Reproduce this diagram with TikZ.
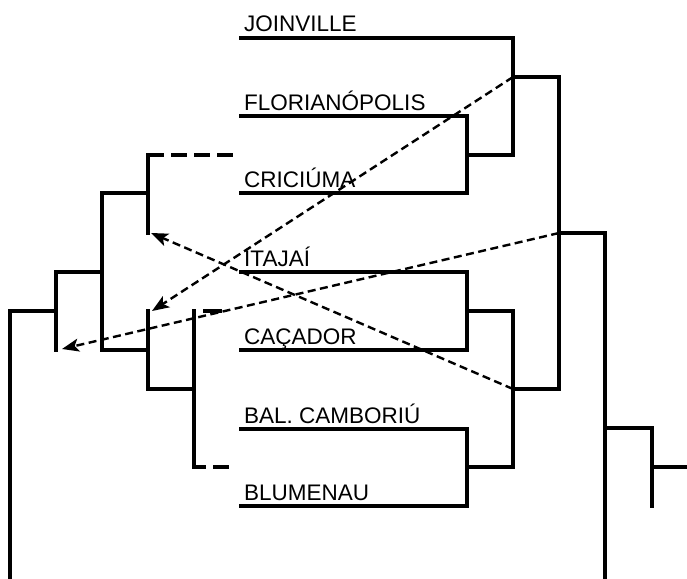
\documentclass[tikz,border=0pt]{standalone}
\usepackage{fontspec}
\setmainfont{Liberation Sans}
\usetikzlibrary{arrows.meta}
\begin{document}
\begin{tikzpicture}[x=1pt,y=-1pt,
  tree/.style={line width=3.2pt,line cap=rect},
  dashtree/.style={line width=3.2pt,dash pattern=on 16pt off 7pt},
  arr/.style={line width=2.4pt,dash pattern=on 8pt off 4.5pt,-{Stealth[length=17pt,width=13pt,inset=4pt]}},
  lab/.style={anchor=base west,inner sep=0pt,font=\fontsize{22.5}{26}\selectfont}]
\useasboundingbox (0,0) rectangle (687,578);
% right tree leaves
\node[lab] (joi) at (244,32) {JOINVILLE};
\node[lab] (flo) at (244,110) {FLORIANÓPOLIS};
\node[lab] (cri) at (244,187) {CRICIÚMA};
\node[lab] (ita) at (244,266) {ITAJAÍ};
\node[lab] (cac) at (244,344) {CAÇADOR};
\node[lab] (bal) at (244,423) {BAL. CAMBORIÚ};
\node[lab] (blu) at (244,500) {BLUMENAU};
% right tree
\draw[tree] (241,38) -- (513,38) -- (513,155);
\draw[tree] (241,116) -- (467,116) -- (467,193) -- (241,193);
\draw[tree] (467,155) -- (513,155);
\draw[tree] (513,77) -- (559,77) -- (559,389);
\draw[tree] (241,272) -- (467,272) -- (467,350) -- (241,350);
\draw[tree] (467,311) -- (513,311) -- (513,467) -- (467,467);
\draw[tree] (241,429) -- (467,429) -- (467,506) -- (241,506);
\draw[tree] (513,389) -- (559,389);
\draw[tree] (559,233) -- (605,233) -- (605,578);
\draw[tree] (605,428) -- (652,428) -- (652,506);
\draw[tree] (652,467) -- (687,467);
% left tree
\draw[dashtree] (148,155) -- (236,155);
\draw[tree] (148,155) -- (148,233);
\draw[tree] (148,193) -- (102,193) -- (102,350) -- (148,350);
\draw[tree] (102,272) -- (56,272) -- (56,350);
\draw[tree] (56,311) -- (10,311) -- (10,578);
\draw[tree] (148,311) -- (148,389) -- (194,389);
\draw[tree] (194,311) -- (194,467);
\draw[line width=3.2pt] (203,311) -- (222,311);
\draw[line width=3.2pt,dash pattern=on 12pt off 7pt on 16pt off 7pt] (194,467) -- (233,467);
% arrows
\coordinate (a1s) at (513,77);
\coordinate (a1e) at (152,311);
\coordinate (a2s) at (559,233);
\coordinate (a2e) at (62,349);
\coordinate (a3s) at (513,389);
\coordinate (a3e) at (151,233);
\draw[arr] (a1s) -- (a1e);
\draw[arr] (a2s) -- (a2e);
\draw[arr] (a3s) -- (a3e);
\end{tikzpicture}
\end{document}
